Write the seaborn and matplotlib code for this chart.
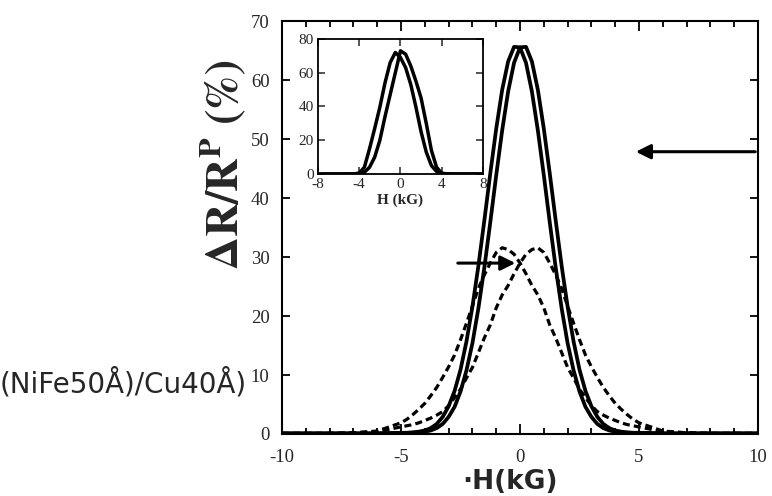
import seaborn as sns
import matplotlib.pyplot as plt
from matplotlib.ticker import MultipleLocator

# field grid (kG) for the main panel
field = [-10, -9, -8, -7, -6,
         -5, -4.75, -4.5, -4.25, -4, -3.75, -3.5, -3.25, -3, -2.75, -2.5, -2.25,
         -2, -1.75, -1.5, -1.25, -1, -0.75, -0.5, -0.25, 0, 0.25, 0.5, 0.75,
         1, 1.25, 1.5, 1.75, 2, 2.25, 2.5, 2.75, 3, 3.25, 3.5, 3.75, 4, 4.25,
         4.5, 4.75, 5,
         6, 7, 8, 9, 10]

# solid branches (sweep down / sweep up)
solid_down = [0.1, 0.1, 0.1, 0.1, 0.1,
              0.2, 0.2, 0.25, 0.4, 0.6, 1.0, 1.7, 2.9, 4.7, 7.3, 10.9, 15.7,
              21.6, 28.5, 36.2, 44.2, 51.8, 58.4, 63.2, 65.7, 65.6, 63.0, 58.1, 51.5,
              43.9, 35.9, 28.2, 21.3, 15.4, 10.8, 7.2, 4.6, 2.9, 1.7, 1.0, 0.6, 0.4, 0.3,
              0.25, 0.2, 0.2,
              0.1, 0.1, 0.1, 0.1, 0.1]
solid_up = solid_down[::-1]

# dashed branches
dashed_down = [0.1, 0.1, 0.1, 0.2, 0.5,
               1.9, 2.5, 3.3, 4.2, 5.2, 6.5, 7.9, 9.6, 11.4, 13.4, 16.0, 18.8,
               21.7, 24.7, 27.0, 29.0, 30.8, 31.6, 31.3, 30.5, 29.0, 27.2, 25.2, 23.6,
               21.4, 18.5, 16.3, 13.8, 11.3, 9.5, 7.6, 6.2, 4.8, 3.8, 3.2, 2.7, 2.3, 1.9,
               1.6, 1.4, 1.2,
               0.4, 0.2, 0.1, 0.1, 0.1]
dashed_up = dashed_down[::-1]

# inset
inset_field = [-8, -7, -6, -5, -4.5, -4, -3.5, -3, -2.5, -2, -1.5, -1, -0.5,
               0, 0.5, 1, 1.5, 2, 2.5, 3, 3.5, 4, 4.5, 5, 6, 7, 8]
inset_down = [0, 0, 0, 0, 0.1, 0.5, 4, 15, 27, 39.6, 54, 66, 72,
              69, 63, 53, 39.6, 25, 13, 5, 1.5, 0.3, 0.1, 0, 0, 0, 0]
inset_up = [0, 0, 0, 0, 0.1, 0.3, 1, 4, 10, 20, 34, 47, 60,
            73, 71, 64, 55, 45, 30, 14, 4, 0.4, 0.1, 0, 0, 0, 0]

main_xticks = [-10, -5, 0, 5, 10]
main_yticks = [0, 10, 20, 30, 40, 50, 60, 70]
inset_xticks = [-8, -4, 0, 4, 8]
inset_yticks = [0, 20, 40, 60, 80]

sns.set_style("ticks")
plt.rcParams["font.family"] = ["Liberation Serif", "DejaVu Serif"]
plt.rcParams["mathtext.fontset"] = "stix"
plt.rcParams["axes.unicode_minus"] = False

fig = plt.figure(figsize=(7.72, 4.96), dpi=100)
ax = fig.add_axes([0.3653, 0.125, 0.6166, 0.8317])

for ys in (solid_down, solid_up):
    sns.lineplot(x=field, y=ys, ax=ax, color="black", lw=2.7)
for ys in (dashed_down, dashed_up):
    sns.lineplot(x=field, y=ys, ax=ax, color="black", lw=2.3, dashes=False,
                 linestyle=(0, (2.2, 1.3)))

ax.set_xlim(-10, 10)
ax.set_ylim(0, 70)
ax.set_xticks(main_xticks)
ax.set_yticks(main_yticks)
ax.xaxis.set_minor_locator(MultipleLocator(1))
ax.tick_params(which="both", direction="in", top=True, right=True,
               labelsize=13.5, color="black", width=1.3)
ax.tick_params(axis="x", which="major", length=7, pad=11)
ax.tick_params(axis="x", which="minor", length=4)
ax.tick_params(axis="y", which="major", length=6, pad=9)
for s in ax.spines.values():
    s.set_linewidth(1.5)
    s.set_color("black")

ax.annotate("", xy=(4.75, 47.9), xytext=(10, 47.9),
            arrowprops=dict(arrowstyle="-|>", lw=2.2, color="black", mutation_scale=22),
            annotation_clip=False)
ax.annotate("", xy=(-0.08, 29.0), xytext=(-2.73, 29.0),
            arrowprops=dict(arrowstyle="-|>", lw=2.2, color="black", mutation_scale=22),
            annotation_clip=False)

# inset
ins = fig.add_axes([0.4119, 0.6492, 0.2137, 0.2722])
for ys in (inset_down, inset_up):
    sns.lineplot(x=inset_field, y=ys, ax=ins, color="black", lw=2.5)
ins.set_xlim(-8, 8)
ins.set_ylim(0, 80)
ins.set_xticks(inset_xticks)
ins.set_yticks(inset_yticks)
ins.tick_params(direction="in", top=True, right=True, labelsize=11,
                length=5, width=1.1, pad=3)
ins.set_xlabel("H (kG)", fontsize=11, fontweight="bold", labelpad=2)
for s in ins.spines.values():
    s.set_linewidth(1.3)
    s.set_color("black")

fig.text(0.29, 0.667, r"$\mathbf{\Delta R/R^{P}}\ \mathbf{(\%)}$", rotation=90,
         fontsize=33, ha="center", va="center")
fig.text(0.0, 0.228, "(NiFe50Å)/Cu40Å)", fontsize=20, ha="left", va="center",
         family=["DejaVu Sans"])
fig.text(0.661, 0.028, "·H(kG)", fontsize=19, fontweight="bold", ha="center",
         va="center", family=["DejaVu Sans"])

plt.savefig("out.png", dpi=100)
